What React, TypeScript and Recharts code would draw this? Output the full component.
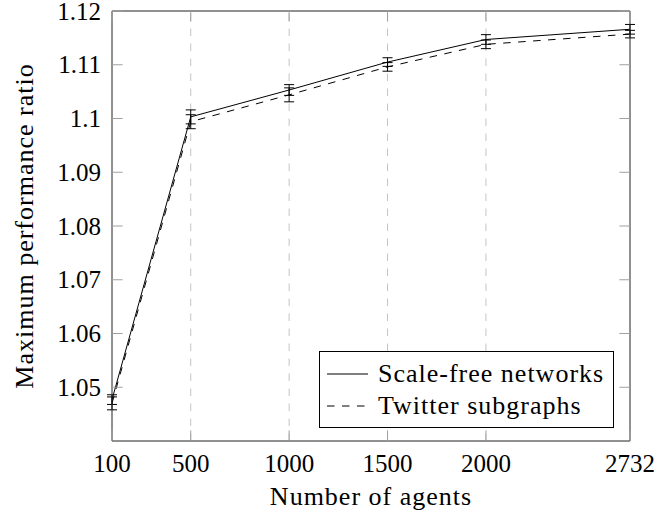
import React from "react";
import {
  LineChart,
  Line,
  XAxis,
  YAxis,
  ErrorBar,
  ReferenceLine,
  Legend,
} from "recharts";

// number of agents
const agents = [100, 500, 1000, 1500, 2000, 2732];

// maximum performance ratio, mean and error
const scaleFree = [1.0477, 1.1003, 1.1053, 1.1105, 1.1147, 1.1166];
const scaleFreeErr = [0.0009, 0.0013, 0.001, 0.0008, 0.0009, 0.0009];
const twitter = [1.047, 1.0994, 1.1044, 1.1096, 1.1138, 1.1157];
const twitterErr = [0.0012, 0.0013, 0.0013, 0.0008, 0.0008, 0.0007];

const xTicks = [100, 500, 1000, 1500, 2000, 2732];
const yTicks = [1.05, 1.06, 1.07, 1.08, 1.09, 1.1, 1.11, 1.12];
const gridX = [500, 1000, 1500, 2000];

const seriesNames = ["Scale-free networks", "Twitter subgraphs"];

const FONT = "'Liberation Serif', 'Times New Roman', serif";
const FS = 25;
const LABEL_FS = 26;
const LABEL_LS = 1;
const TICK_LEN = 10.6;
const TICK_GAP = 11;
const TICK_COLOR = "#a0a0a0";

const data = agents.map((n, i) => ({
  n,
  sf: scaleFree[i],
  sfErr: scaleFreeErr[i],
  tw: twitter[i],
  twErr: twitterErr[i],
}));

const LeftTick = (props: any) => {
  const { x, y, payload } = props;
  const ax = x + TICK_GAP;
  return (
    <g>
      <line x1={ax} x2={ax + TICK_LEN} y1={y} y2={y} stroke={TICK_COLOR} />
      <text
        x={x}
        y={y}
        textAnchor="end"
        dominantBaseline="central"
        fontFamily={FONT}
        fontSize={FS}
        fill="#000"
      >
        {String(payload.value)}
      </text>
    </g>
  );
};

const RightTick = (props: any) => {
  const { x, y } = props;
  return <line x1={x - TICK_LEN} x2={x} y1={y} y2={y} stroke={TICK_COLOR} />;
};

const BottomTick = (props: any) => {
  const { x, y, payload } = props;
  const ay = y - TICK_GAP;
  return (
    <g>
      <line x1={x} x2={x} y1={ay} y2={ay - TICK_LEN} stroke={TICK_COLOR} />
      <text
        x={x}
        y={y}
        dy="0.78em"
        textAnchor="middle"
        fontFamily={FONT}
        fontSize={FS}
        fill="#000"
      >
        {String(payload.value)}
      </text>
    </g>
  );
};

const TopTick = (props: any) => {
  const { x, y } = props;
  return <line x1={x} x2={x} y1={y} y2={y + TICK_LEN} stroke={TICK_COLOR} />;
};

const renderLegend = () => (
  <div
    style={{
      width: "100%",
      height: "100%",
      boxSizing: "border-box",
      border: "1px solid #000",
      background: "#fff",
      fontFamily: FONT,
      fontSize: LABEL_FS,
      letterSpacing: LABEL_LS,
      paddingTop: 6,
    }}
  >
    {seriesNames.map((name, i) => (
      <div key={name} style={{ display: "flex", alignItems: "center", height: 32 }}>
        <svg width={41} height={10} style={{ marginLeft: 7, marginRight: 10 }}>
          <line
            x1={0}
            x2={41}
            y1={5}
            y2={5}
            stroke="#000"
            strokeWidth={1}
            strokeDasharray={i === 1 ? "7.5 7.5" : undefined}
          />
        </svg>
        <span style={{ lineHeight: "32px", whiteSpace: "nowrap" }}>{name}</span>
      </div>
    ))}
  </div>
);

export default function App() {
  return (
    <div style={{ position: "absolute", left: 0, top: 0, background: "#fff" }}>
      <LineChart
        width={659}
        height={516}
        data={data}
        margin={{ top: 0, right: 0, left: 0, bottom: 0 }}
      >
        <XAxis
          dataKey="n"
          type="number"
          domain={[100, 2732]}
          ticks={xTicks}
          interval={0}
          height={75}
          tickSize={0}
          tickMargin={TICK_GAP}
          tickLine={false}
          axisLine={{ stroke: "#222" }}
          tick={BottomTick}
          allowDataOverflow
          label={{
            content: (p: any) => {
              const vb = p.viewBox;
              return (
                <text
                  x={vb.x + vb.width / 2}
                  y={vb.y + vb.height - 11}
                  textAnchor="middle"
                  fontFamily={FONT}
                  fontSize={LABEL_FS}
                  letterSpacing={LABEL_LS}
                  fill="#000"
                >
                  Number of agents
                </text>
              );
            },
          }}
        />
        <XAxis
          xAxisId="top"
          orientation="top"
          dataKey="n"
          type="number"
          domain={[100, 2732]}
          ticks={xTicks}
          interval={0}
          height={11}
          tickSize={0}
          tickMargin={0}
          tickLine={false}
          axisLine={{ stroke: "#222" }}
          tick={TopTick}
          allowDataOverflow
        />
        <YAxis
          type="number"
          domain={[1.04, 1.12]}
          ticks={yTicks}
          interval={0}
          width={112}
          tickSize={0}
          tickMargin={TICK_GAP}
          tickLine={false}
          axisLine={{ stroke: "#222" }}
          tick={LeftTick}
          allowDataOverflow
          label={{
            content: (p: any) => {
              const vb = p.viewBox;
              const cx = vb.x + 24;
              const cy = vb.y + vb.height / 2;
              return (
                <text
                  x={cx}
                  y={cy}
                  transform={`rotate(-90 ${cx} ${cy})`}
                  textAnchor="middle"
                  dominantBaseline="central"
                  fontFamily={FONT}
                  fontSize={LABEL_FS}
                  letterSpacing={LABEL_LS}
                  fill="#000"
                >
                  Maximum performance ratio
                </text>
              );
            },
          }}
        />
        <YAxis
          yAxisId="right"
          orientation="right"
          type="number"
          domain={[1.04, 1.12]}
          ticks={yTicks}
          interval={0}
          width={29}
          tickSize={0}
          tickMargin={0}
          tickLine={false}
          axisLine={{ stroke: "#222" }}
          tick={RightTick}
          allowDataOverflow
        />
        {gridX.map((g) => (
          <ReferenceLine
            key={g}
            x={g}
            stroke="#c4c4c4"
            strokeDasharray="7.5 7.5"
          />
        ))}
        <Line
          dataKey="sf"
          name={seriesNames[0]}
          stroke="#000"
          strokeWidth={1}
          dot={false}
          type="linear"
          isAnimationActive={false}
        >
          <ErrorBar dataKey="sfErr" direction="y" width={5} stroke="#000" strokeWidth={1} />
        </Line>
        <Line
          dataKey="tw"
          name={seriesNames[1]}
          stroke="#000"
          strokeWidth={1}
          strokeDasharray="7.5 7.5"
          dot={false}
          type="linear"
          isAnimationActive={false}
        >
          <ErrorBar dataKey="twErr" direction="y" width={5} stroke="#000" strokeWidth={1} />
        </Line>
        <Legend
          layout="horizontal"
          verticalAlign="middle"
          align="center"
          content={renderLegend}
          wrapperStyle={{ position: "absolute", left: 319, top: 351, width: 295, height: 77 }}
        />
      </LineChart>
    </div>
  );
}
